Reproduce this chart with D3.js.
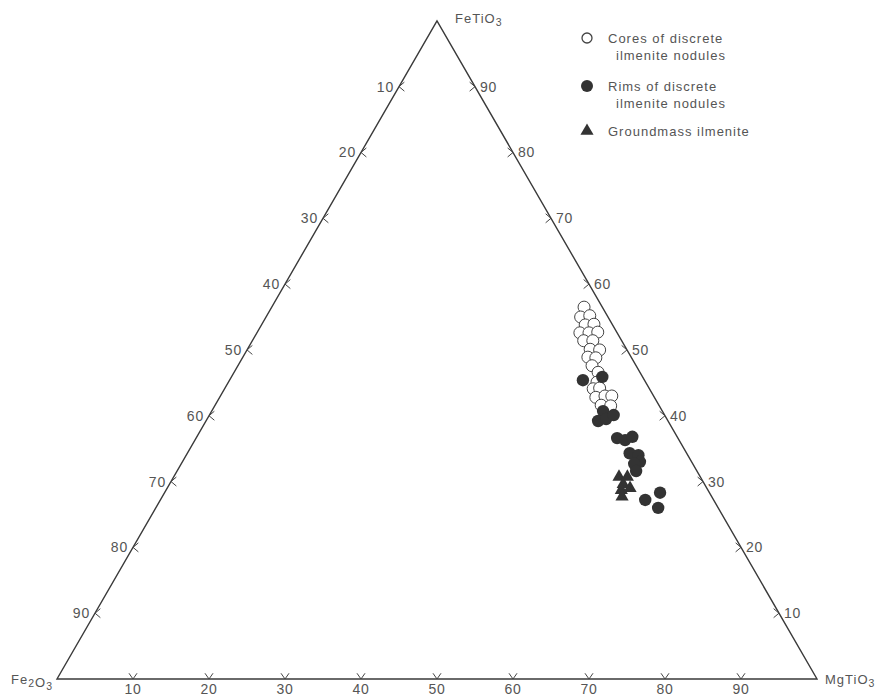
<!DOCTYPE html>
<html>
<head>
<meta charset="utf-8">
<script src="https://cdn.jsdelivr.net/npm/d3@7"></script>
<style>
  html, body { margin: 0; padding: 0; background: #fff; }
  svg { display: block; }
  text { font-family: "Liberation Sans", Arial, sans-serif; fill: #555; }
</style>
</head>
<body>
<svg id="chart" width="882" height="696"></svg>
<script>
// Ternary system FeTiO3 (apex) – Fe2O3 (left) – MgTiO3 (right), mol %
const tickValues = [10, 20, 30, 40, 50, 60, 70, 80, 90];

// Cores of discrete ilmenite nodules
const coreFeTiO3 = [56.5, 55.0, 55.2, 53.8, 53.9, 52.6, 52.6, 52.7, 51.4, 51.4, 50.1, 50.0,
                    48.9, 48.8, 47.6, 46.6, 45.1, 44.1, 44.2, 42.8, 43.0, 43.0, 41.6, 41.5];
const coreMgTiO3 = [41.1, 41.4, 42.5, 42.6, 43.7, 42.5, 43.7, 44.8, 43.6, 44.8, 45.1, 46.4,
                    45.4, 46.5, 46.6, 47.9, 48.5, 48.5, 49.3, 49.5, 50.6, 51.5, 50.8, 52.1];

// Rims of discrete ilmenite nodules
const rimFeTiO3 = [45.4, 45.9, 40.7, 39.2, 39.5, 40.1, 36.6, 36.3, 36.8, 34.3, 34.0, 33.0, 32.7, 31.6,
                   27.2, 28.3, 26.0];
const rimMgTiO3 = [46.5, 48.8, 51.5, 51.6, 52.5, 53.2, 55.4, 56.6, 57.3, 58.2, 59.5, 60.2, 59.6, 60.4,
                   63.8, 65.2, 66.1];

// Groundmass ilmenite
const gmFeTiO3 = [30.7, 30.7, 29.6, 28.7, 29.0, 27.7];
const gmMgTiO3 = [58.6, 59.7, 59.7, 59.9, 60.9, 60.5];

const legendLabels = [
  ["Cores of discrete", "ilmenite nodules"],
  ["Rims of discrete", "ilmenite nodules"],
  ["Groundmass ilmenite"]
];

const svg = d3.select("#chart");

// Triangle frame in page space
const left = 57, right = 817, base = 679;
const height = (right - left) * Math.sqrt(3) / 2;
const xScale = d3.scaleLinear().domain([0, 100]).range([left, right]);
const yScale = d3.scaleLinear().domain([0, 100]).range([base, base - height]);

// (FeTiO3, MgTiO3) -> page position
const project = (feti, mg) => [xScale(mg + feti / 2), yScale(feti)];

const A = project(100, 0), L = project(0, 0), R = project(0, 100);

svg.append("path")
  .attr("d", d3.line()([A, L, R, A]) + "Z")
  .attr("fill", "none")
  .attr("stroke", "#3a3a3a")
  .attr("stroke-width", 1.4)
  .attr("stroke-linejoin", "miter");

const tickG = svg.append("g")
  .attr("fill", "none")
  .attr("stroke", "#444")
  .attr("stroke-width", 1);

const arm = 7;
const chevron = (p, ang, spread) => {
  const a1 = ang - spread, a2 = ang + spread;
  return d3.line()([
    [p[0] + arm * Math.cos(a1), p[1] + arm * Math.sin(a1)],
    p,
    [p[0] + arm * Math.cos(a2), p[1] + arm * Math.sin(a2)]
  ]);
};
const deg = Math.PI / 180;
const tickFont = 14;

// Bottom edge: MgTiO3 %
tickValues.forEach(v => {
  const p = project(0, v);
  tickG.append("path").attr("d", chevron(p, -90 * deg, 35 * deg));
  svg.append("text")
    .attr("x", p[0]).attr("y", p[1] + 15)
    .attr("text-anchor", "middle")
    .attr("font-size", tickFont)
    .attr("letter-spacing", 0.8)
    .text(v);
});

// Left edge: Fe2O3 %
tickValues.forEach(v => {
  const p = project(100 - v, 0);
  tickG.append("path").attr("d", chevron(p, 0, 40 * deg));
  svg.append("text")
    .attr("x", p[0] - 5).attr("y", p[1] + 5)
    .attr("text-anchor", "end")
    .attr("font-size", tickFont)
    .attr("letter-spacing", 0.8)
    .text(v);
});

// Right edge: FeTiO3 %
tickValues.forEach(v => {
  const p = project(v, 100 - v);
  tickG.append("path").attr("d", chevron(p, 180 * deg, 40 * deg));
  svg.append("text")
    .attr("x", p[0] + 5).attr("y", p[1] + 5)
    .attr("text-anchor", "start")
    .attr("font-size", tickFont)
    .attr("letter-spacing", 0.8)
    .text(v);
});

// Corner labels with subscripts
const corner = (x, y, anchor, parts) => {
  const t = svg.append("text")
    .attr("x", x).attr("y", y)
    .attr("text-anchor", anchor)
    .attr("font-size", 13)
    .attr("letter-spacing", 1);
  parts.forEach(([s, sub]) => {
    t.append("tspan")
      .attr("font-size", sub ? 10.5 : 13)
      .attr("dy", sub ? 3 : 0)
      .text(s);
    if (sub) t.append("tspan").attr("dy", -3).text("");
  });
};
corner(A[0] + 18, A[1] + 2, "start", [["FeTiO", false], ["3", true]]);
corner(L[0] - 4, L[1] + 5, "end", [["Fe", false], ["2", true], ["O", false], ["3", true]]);
corner(R[0] + 8, R[1] + 5, "start", [["MgTiO", false], ["3", true]]);

// Data marks
const plot = svg.append("g");
const rCore = 6, rRim = 6.2;
const triangleSym = d3.symbol().type(d3.symbolTriangle).size(75);

plot.selectAll("circle.core")
  .data(d3.zip(coreFeTiO3, coreMgTiO3))
  .join("circle")
  .attr("class", "core")
  .attr("cx", d => project(d[0], d[1])[0])
  .attr("cy", d => project(d[0], d[1])[1])
  .attr("r", rCore)
  .attr("fill", "#fff")
  .attr("stroke", "#444")
  .attr("stroke-width", 1);

plot.selectAll("circle.rim")
  .data(d3.zip(rimFeTiO3, rimMgTiO3))
  .join("circle")
  .attr("class", "rim")
  .attr("cx", d => project(d[0], d[1])[0])
  .attr("cy", d => project(d[0], d[1])[1])
  .attr("r", rRim)
  .attr("fill", "#333");

plot.selectAll("path.gm")
  .data(d3.zip(gmFeTiO3, gmMgTiO3))
  .join("path")
  .attr("class", "gm")
  .attr("d", triangleSym)
  .attr("transform", d => `translate(${project(d[0], d[1])})`)
  .attr("fill", "#333");

// Legend
const lg = svg.append("g").attr("transform", "translate(587,38)");
const rowY = [0, 48, 93];
lg.append("circle").attr("cx", 0).attr("cy", rowY[0]).attr("r", 5)
  .attr("fill", "#fff").attr("stroke", "#444").attr("stroke-width", 1.3);
lg.append("circle").attr("cx", 0).attr("cy", rowY[1]).attr("r", 6).attr("fill", "#333");
lg.append("path").attr("d", triangleSym).attr("transform", `translate(0,${rowY[2]})`).attr("fill", "#333");

legendLabels.forEach((lines, i) => {
  lines.forEach((s, j) => {
    lg.append("text")
      .attr("x", j === 0 ? 21 : 29)
      .attr("y", rowY[i] + 4.5 + j * 17)
      .attr("font-size", 13)
      .attr("letter-spacing", 1)
      .text(s);
  });
});
</script>
</body>
</html>
